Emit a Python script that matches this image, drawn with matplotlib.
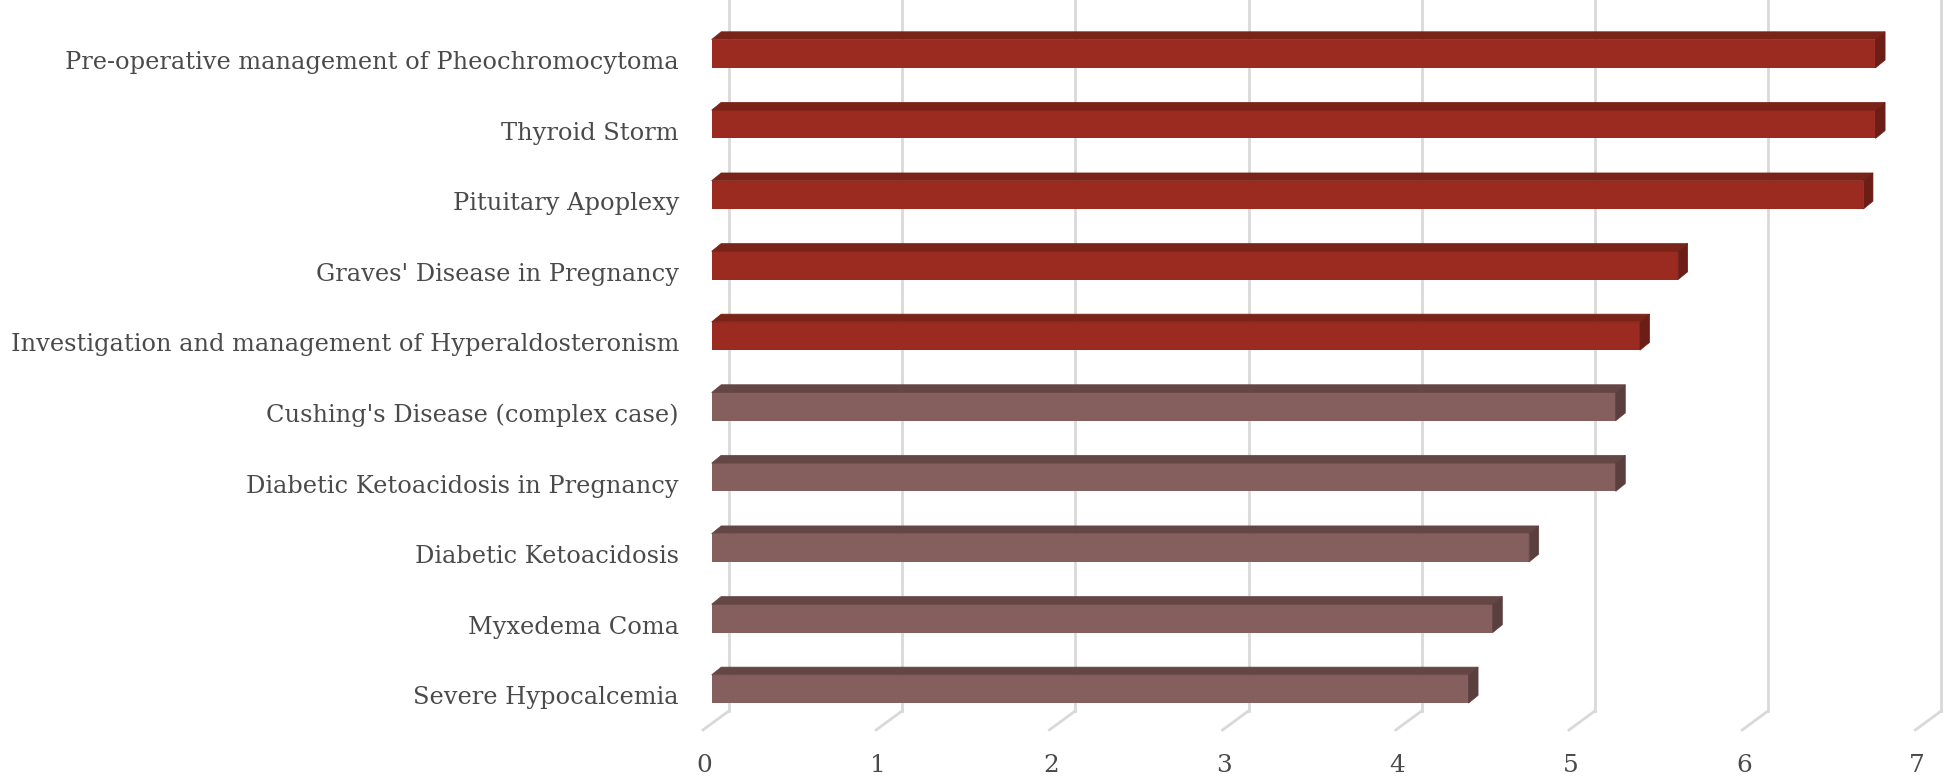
import matplotlib
matplotlib.use("Agg")
import matplotlib.pyplot as plt
from matplotlib.patches import Polygon

# data, bottom-to-top order as drawn
labels = ["Severe Hypocalcemia", "Myxedema Coma", "Diabetic Ketoacidosis",
          "Diabetic Ketoacidosis in Pregnancy", "Cushing's Disease (complex case)",
          "Investigation and management of Hyperaldosteronism",
          "Graves' Disease in Pregnancy", "Pituitary Apoplexy", "Thyroid Storm",
          "Pre-operative management of Pheochromocytoma"]
values = [4.37, 4.51, 4.72, 5.22, 5.22, 5.36, 5.58, 6.65, 6.72, 6.72]
ticks = [0, 1, 2, 3, 4, 5, 6, 7]

# face colours (front, top, side) for the two groups
red = ("#9b2a20", "#7a2319", "#6c1e16")
mauve = ("#855f5e", "#644645", "#5b3f3e")
groups = [mauve] * 5 + [red] * 5

txt = "#4a4a4a"
grid = "#d9d9d9"

h = 0.40        # bar thickness
dx, dy = 0.055, 0.11    # bar depth offset
wx = 0.10       # back wall offset in x
wall_y = -0.31  # bottom of back wall
floor_x, floor_y = -0.05, -0.58

fig = plt.figure(figsize=(19.46, 7.79), dpi=100)
ax = fig.add_axes([0.339, 0.0068, 0.6604, 0.9932])
ax.set_xlim(-0.3, 7.12)
ax.set_ylim(-1.2, 9.76)
ax.axis("off")

# back wall gridlines + floor stubs
for t in ticks:
    ax.plot([t + wx, t + wx], [wall_y, 9.76], color=grid, lw=2, zorder=1, clip_on=False)
    ax.plot([t + wx, t + floor_x], [wall_y, floor_y], color=grid, lw=2, zorder=1, clip_on=False)
    ax.text(t - 0.04, -1.17, str(t), ha="center", va="baseline", fontsize=17.8,
            family="DejaVu Serif", color=txt)

idx = list(range(len(values)))
ax.barh(idx, values, height=h, left=0, color=[g[0] for g in groups],
        edgecolor="none", zorder=3)

for i, v in enumerate(values):
    c = groups[i]
    top = i + h / 2
    bot = i - h / 2
    ax.add_patch(Polygon([(0, top), (v, top), (v + dx, top + dy), (dx, top + dy)],
                         closed=True, facecolor=c[1], edgecolor=c[1], lw=0.5, zorder=3))
    ax.add_patch(Polygon([(v, bot), (v, top), (v + dx, top + dy), (v + dx, bot + dy)],
                         closed=True, facecolor=c[2], edgecolor=c[2], lw=0.5, zorder=3))
    ax.text(-0.189, i - 0.217, labels[i], ha="right", va="baseline", fontsize=17.4,
            family="DejaVu Serif", color=txt)

fig.savefig("out.png", dpi=100)
